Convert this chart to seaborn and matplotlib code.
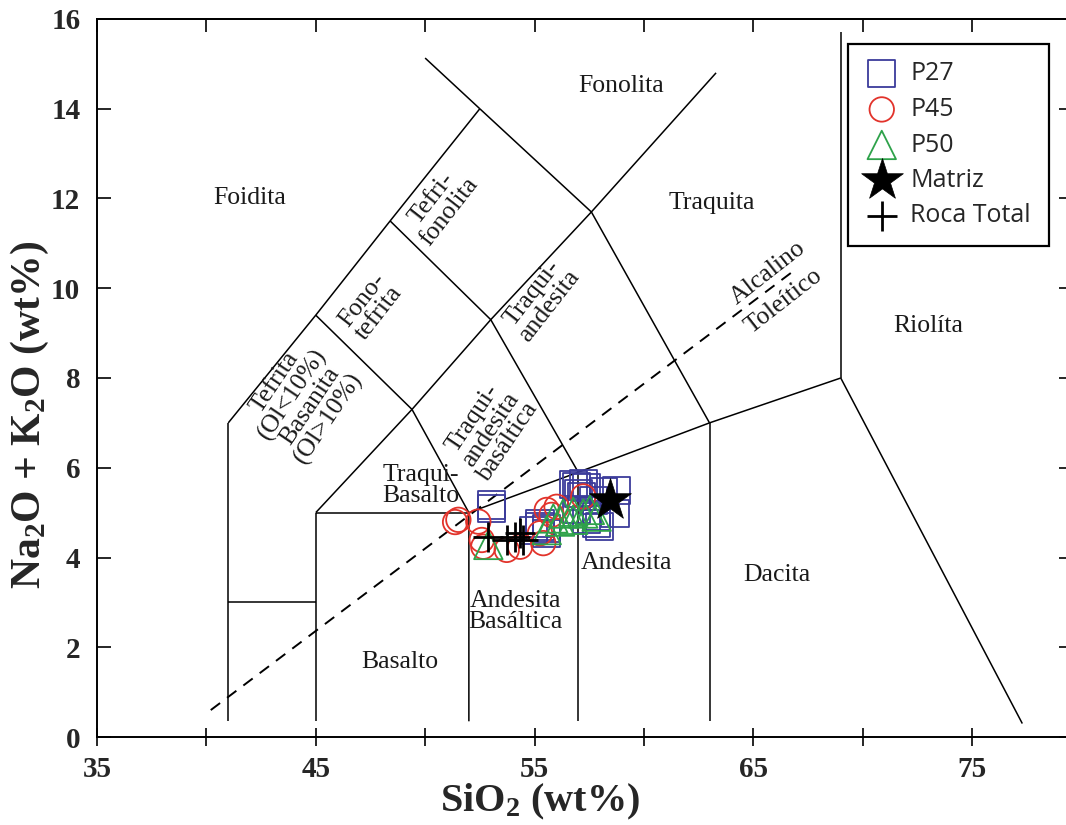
import numpy as np
import pandas as pd
import matplotlib
matplotlib.use("Agg")
import matplotlib.pyplot as plt
import seaborn as sns

# ---------------- data ----------------
p27_x = [53.04, 53.04, 56.93, 57.38, 57.15, 57.68, 57.84, 57.99, 57.38, 58.68, 56.93,
         55.25, 55.56, 54.94, 56.77, 57.23, 57.0, 58.15, 58.75, 57.84, 55.25, 55.56]
p27_y = [5.17, 5.10, 5.58, 5.55, 5.36, 5.28, 4.91, 4.69, 4.84, 4.99, 5.06,
         4.69, 4.54, 4.61, 5.62, 5.65, 5.43, 5.47, 5.50, 4.76, 4.76, 4.65]

p45_x = [51.52, 52.43, 52.59, 52.66, 53.73, 54.34, 55.40, 55.25, 55.56, 56.01, 57.23, 55.78, 51.37]
p45_y = [4.84, 4.80, 4.39, 4.24, 4.17, 4.24, 4.32, 4.54, 5.06, 5.13, 5.36, 4.95, 4.79]

p50_x = [52.89, 55.56, 55.86, 56.31, 56.77, 57.23, 57.53, 57.84, 56.77, 56.17]
p50_y = [4.28, 4.61, 4.87, 4.98, 5.02, 4.98, 5.06, 4.91, 4.84, 4.80]

matriz_x = [58.45]
matriz_y = [5.28]

roca_x = [52.89, 53.73, 54.11, 54.49, 54.34]
roca_y = [4.46, 4.39, 4.46, 4.39, 4.54]

# TAS classification boundaries (SiO2, Na2O+K2O)
tas_lines = [
    [(41, 0.35), (41, 7)],
    [(41, 7), (45, 9.4), (48.4, 11.5), (52.5, 14)],
    [(52.5, 14), (50, 15.13)],
    [(52.5, 14), (57.6, 11.7), (63, 7)],
    [(41, 3), (45, 3)],
    [(45, 0.35), (45, 5)],
    [(45, 5), (49.4, 7.3), (53, 9.3), (57.6, 11.7), (63.3, 14.8)],
    [(45, 5), (52, 5)],
    [(52, 0.35), (52, 5), (57, 5.9), (63, 7), (69, 8)],
    [(49.4, 7.3), (52, 5)],
    [(45, 9.4), (49.4, 7.3)],
    [(48.4, 11.5), (53, 9.3), (57, 5.9)],
    [(57, 0.35), (57, 5.9)],
    [(63, 0.35), (63, 7)],
    [(69, 8), (69, 15.7)],
    [(69, 8), (77.3, 0.3)],
]
alk_line = [(40.2, 0.6), (66.8, 10.37)]

region_labels = [
    ("Fonolita", 58.95, 14.5, 0),
    ("Foidita", 42.0, 12.0, 0),
    ("Tefri-\nfonolita", 50.7, 11.85, 52),
    ("Traquita", 63.1, 11.9, 0),
    ("Fono-\ntefrita", 47.5, 9.6, 52),
    ("Traqui-\nandesita", 55.3, 9.75, 52),
    ("Riolíta", 73.0, 9.15, 0),
    ("Tefrita\n(Ol<10%)\nBasanita\n(Ol>10%)", 44.35, 7.5, 56),
    ("Traqui-\nandesita\nbasáltica", 53.0, 6.85, 56),
    ("Traqui-\nBasalto", 49.8, 5.6, 0),
    ("Andesita", 59.2, 3.88, 0),
    ("Dacita", 66.1, 3.6, 0),
    ("Andesita\nBasáltica", 54.15, 2.8, 0),
    ("Basalto", 48.85, 1.67, 0),
    ("Alcalino", 65.67, 10.35, 38),
    ("Toleítico", 66.4, 9.72, 38),
]

xticks = [35, 45, 55, 65, 75]
yticks = [0, 2, 4, 6, 8, 10, 12, 14, 16]

# ---------------- style ----------------
sns.set_theme(style="white")
plt.rcParams['font.family'] = ['Liberation Serif', 'DejaVu Serif']
plt.rcParams['mathtext.fontset'] = 'custom'
plt.rcParams['mathtext.rm'] = 'Liberation Serif:bold'
plt.rcParams['mathtext.bf'] = 'Liberation Serif:bold'
plt.rcParams['mathtext.it'] = 'Liberation Serif:bold'

W, H = 1066, 825
XMIN, XMAX = 35, 79.6
PX_PER_UNIT = 21.875
fig = plt.figure(figsize=(W / 100, H / 100), dpi=100)
fig.patch.set_facecolor('white')
# axes: x 35 at px 97 ; y 0 at px 737, 16 at px 19
right_px = 97 + (XMAX - XMIN) * PX_PER_UNIT
ax = fig.add_axes([97 / W, (H - 737) / H, (right_px - 97) / W, (737 - 19) / H])
ax.set_xlim(XMIN, XMAX)
ax.set_ylim(0, 16)

for seg in tas_lines:
    df = pd.DataFrame(seg, columns=["x", "y"])
    ax.plot(df["x"], df["y"], color="black", lw=1.1, solid_capstyle='butt')
adf = pd.DataFrame(alk_line, columns=["x", "y"])
ax.plot(adf["x"], adf["y"], color="black", lw=1.4, ls=(0, (6, 4.5)))

for txt, x, y, rot in region_labels:
    ax.text(x, y, txt, ha="center", va="center", rotation=rot, rotation_mode="anchor",
            multialignment="center", fontsize=18.5, color="#1a1a1a", linespacing=0.95,
            family="Liberation Serif")

blue = "#3b3b9b"
red = "#e2332b"
green = "#2ea24a"

sns.scatterplot(x=p27_x, y=p27_y, marker="s", s=380, facecolor="none", edgecolor=blue,
                linewidth=1.3, ax=ax, label="P27", zorder=3)
sns.scatterplot(x=p45_x, y=p45_y, marker="o", s=310, facecolor="none", edgecolor=red,
                linewidth=1.3, ax=ax, label="P45", zorder=3)
sns.scatterplot(x=p50_x, y=p50_y, marker="^", s=420, facecolor="none", edgecolor=green,
                linewidth=1.3, ax=ax, label="P50", zorder=3)
sns.scatterplot(x=matriz_x, y=matriz_y, marker="*", s=1000, color="black", edgecolor="black",
                linewidth=0.5, ax=ax, label="Matriz", zorder=4)
sns.scatterplot(x=roca_x, y=roca_y, marker="+", s=480, color="black",
                linewidth=2.0, ax=ax, label="Roca Total", zorder=4)

leg = ax.legend(loc="upper left", bbox_to_anchor=(848 / W, 1 - 44 / H),
                bbox_transform=fig.transFigure, frameon=True, fancybox=False,
                edgecolor="black", facecolor="white", framealpha=1,
                prop={"family": "Open Sans", "size": 18}, borderpad=0.7,
                labelspacing=0.42, handlelength=1.3, handletextpad=0.5,
                borderaxespad=0)
leg.get_frame().set_linewidth(1.6)

# ticks
ax.set_xticks(xticks)
ax.set_xticks(np.arange(35, 80, 5), minor=True)
ax.set_yticks(yticks)
ax.tick_params(axis="x", which="both", direction="inout", length=13, width=1.4,
               top=False, bottom=True, pad=7)
ax.tick_params(axis="y", which="both", direction="in", length=10, width=1.4,
               left=True, right=True, pad=12)
secx = ax.secondary_xaxis("top")
secx.set_xticks(np.arange(35, 80, 5))
secx.tick_params(axis="x", direction="in", length=9, width=1.4, labeltop=False)
secx.spines["top"].set_linewidth(1.4)
for lab in ax.get_xticklabels() + ax.get_yticklabels():
    lab.set_fontfamily("Liberation Serif")
    lab.set_fontweight("bold")
    lab.set_fontsize(21)
for sp in ax.spines.values():
    sp.set_linewidth(1.4)
    sp.set_color("black")

fig.text(540 / W, 1 - 802 / H, r"SiO$_2$ (wt%)", ha="center", va="center",
         fontsize=29, fontweight="bold", family="Liberation Serif")
fig.text(30 / W, 1 - 415 / H, r"Na$_2$O + K$_2$O (wt%)", ha="center", va="center",
         rotation=90, fontsize=30, fontweight="bold", family="Liberation Serif")

fig.savefig("out.png", dpi=100, facecolor="white")
